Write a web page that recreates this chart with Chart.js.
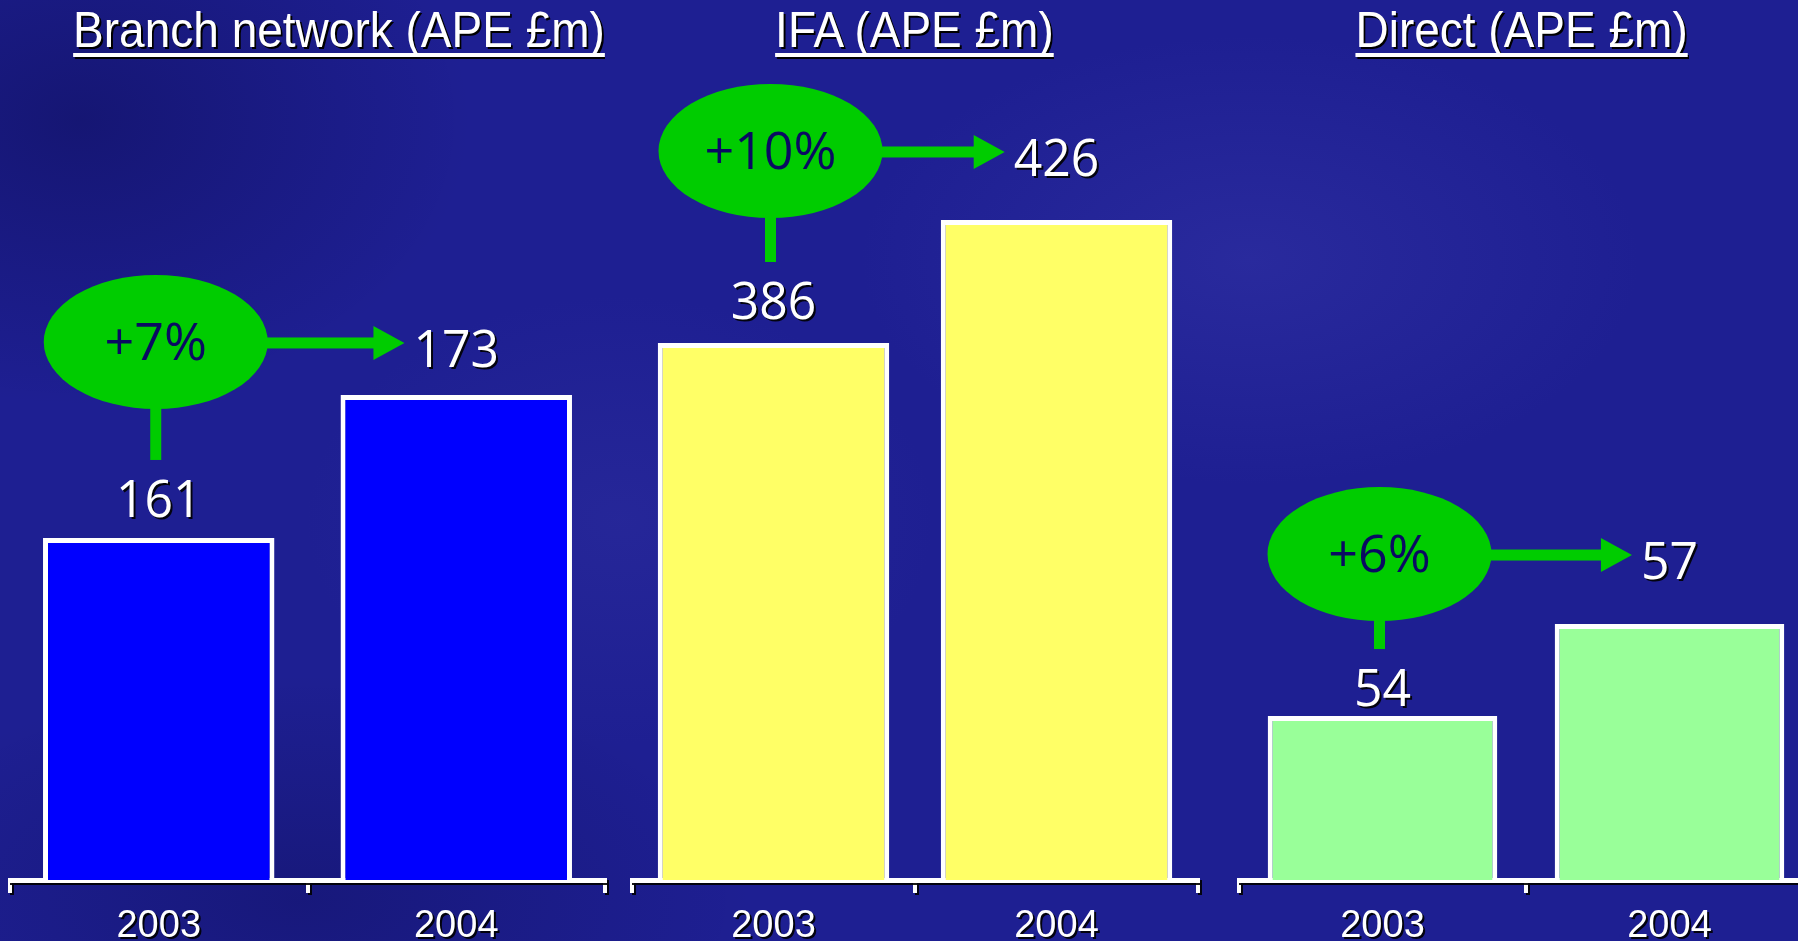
<!DOCTYPE html>
<html>
<head>
<meta charset="utf-8">
<title>APE by channel 2003-2004</title>
<script src="https://cdn.jsdelivr.net/npm/chart.js@4.4.1/dist/chart.umd.min.js"></script>
<style>
  html, body { margin: 0; padding: 0; }
  body {
    width: 1798px;
    height: 941px;
    overflow: hidden;
    position: relative;
    font-family: "Liberation Sans", Arial, sans-serif;
    background:
      radial-gradient(ellipse 520px 300px at 1250px 260px, rgba(70, 70, 185, 0.28), rgba(70, 70, 185, 0) 75%),
      radial-gradient(ellipse 420px 300px at 620px 520px, rgba(65, 65, 175, 0.22), rgba(65, 65, 175, 0) 75%),
      radial-gradient(ellipse 520px 380px at 80px 120px, rgba(8, 8, 70, 0.40), rgba(8, 8, 70, 0) 75%),
      radial-gradient(ellipse 600px 300px at 300px 900px, rgba(8, 8, 70, 0.30), rgba(8, 8, 70, 0) 75%),
      #1e1f92;
  }
  .panel { position: absolute; top: 0; }
  .heading {
    position: absolute;
    top: 5px;
    width: 800px;
    text-align: center;
    color: #fff;
    font-size: 50px;
    line-height: 50px;
    white-space: nowrap;
  }
  .heading span {
    display: inline-block;
    transform: scaleX(0.92);
    text-decoration: underline;
    text-decoration-thickness: 4px;
    text-underline-offset: 6px;
    text-decoration-skip-ink: none;
    text-shadow: 2px 2px 0 #000;
  }
</style>
</head>
<body>
<script>
const channels = ["Branch network (APE £m)", "IFA (APE £m)", "Direct (APE £m)"];
const years = ["2003", "2004"];
const branchApe = [161, 173];
const ifaApe = [386, 426];
const directApe = [54, 57];
// value axis ranges (the bars don't start from zero)
const yMin = [132.3, 211.4, 48.65];
const yMax = [197.75, 465.0, 74.1];

const panels = [
  { title: channels[0], values: branchApe, min: yMin[0], max: yMax[0], color: "#0000ff",
    left: 10, width: 595, titleX: 339, barPct: 0.778, lift: 196, labelLift: 40 },
  { title: channels[1], values: ifaApe, min: yMin[1], max: yMax[1], color: "#ffff66",
    left: 632, width: 566, titleX: 914, barPct: 0.818, lift: 192, labelLift: 43 },
  { title: channels[2], values: directApe, min: yMin[2], max: yMax[2], color: "#99ff99",
    left: 1239, width: 574, titleX: 1522, barPct: 0.80, lift: 162, labelLift: 29 }
];

const VALUE_FONT = '52px "Open Sans", "Noto Sans", sans-serif';
const GROWTH_FONT = '52px "Open Sans", "Noto Sans", sans-serif';

function squeezedText(ctx, text, x, y, sx) {
  ctx.save();
  ctx.translate(x, y);
  ctx.scale(sx, 1);
  ctx.textAlign = "center";
  ctx.textBaseline = "alphabetic";
  ctx.fillText(text, 0, 0);
  ctx.restore();
}

// white text with a hard black drop shadow on the axis labels
const textShadow = {
  id: "textShadow",
  beforeDraw(chart) {
    const ctx = chart.ctx;
    ctx.shadowColor = "rgba(0,0,0,0.9)";
    ctx.shadowOffsetX = 2;
    ctx.shadowOffsetY = 2;
    ctx.shadowBlur = 0;
  },
  beforeDatasetsDraw(chart) {
    chart.ctx.shadowColor = "rgba(0,0,0,0)";
  }
};

// green bubble with growth %, stem down to the 2003 value and arrow to the 2004 value
const growthCallout = {
  id: "growthCallout",
  afterDatasetsDraw(chart, args, opts) {
    const ctx = chart.ctx;
    const vals = chart.data.datasets[0].data;
    const [b1, b2] = chart.getDatasetMeta(0).data;
    const growth = Math.round((vals[1] - vals[0]) / vals[0] * 100);
    const rx = 112, ry = 67;
    const cx = b1.x - 3;
    const cy = b1.y - opts.lift;
    const labelY = b1.y - opts.labelLift;
    const green = "#00cc00";
    const sx = 0.96;

    ctx.save();
    ctx.font = VALUE_FONT;
    const w2 = ctx.measureText(String(vals[1])).width * sx;

    ctx.fillStyle = green;
    // stem
    const stemTop = cy + ry - 6;
    ctx.fillRect(cx - 5.5, stemTop, 11, labelY - 38 - stemTop);
    // bubble
    ctx.beginPath();
    ctx.ellipse(cx, cy, rx, ry, 0, 0, Math.PI * 2);
    ctx.fill();
    // arrow
    const ay = cy + 1;
    const x0 = cx + rx - 3;
    const tip = b2.x - w2 / 2 - 9;
    ctx.fillRect(x0, ay - 5.5, tip - 30 - x0, 11);
    ctx.beginPath();
    ctx.moveTo(tip - 31, ay - 17);
    ctx.lineTo(tip, ay);
    ctx.lineTo(tip - 31, ay + 17);
    ctx.closePath();
    ctx.fill();

    // growth text
    ctx.fillStyle = "#0a0a62";
    ctx.font = GROWTH_FONT;
    squeezedText(ctx, "+" + growth + "%", cx, cy + 18, 1);

    // value labels
    ctx.font = VALUE_FONT;
    ctx.fillStyle = "#ffffff";
    ctx.shadowColor = "rgba(0,0,0,0.9)";
    ctx.shadowOffsetX = 2;
    ctx.shadowOffsetY = 2;
    squeezedText(ctx, String(vals[0]), b1.x, labelY + 19, sx);
    squeezedText(ctx, String(vals[1]), b2.x, cy + 6 + 19, sx);
    ctx.restore();
  }
};

panels.forEach((p) => {
  const head = document.createElement("div");
  head.className = "heading";
  head.style.left = (p.titleX - 400) + "px";
  const span = document.createElement("span");
  span.textContent = p.title;
  head.appendChild(span);
  document.body.appendChild(head);

  const pad = 4;
  const canvas = document.createElement("canvas");
  canvas.className = "panel";
  canvas.width = p.width + pad * 2;
  canvas.height = 941;
  canvas.style.left = (p.left - pad) + "px";
  document.body.appendChild(canvas);

  new Chart(canvas, {
    type: "bar",
    data: {
      labels: years,
      datasets: [{
        data: p.values,
        backgroundColor: p.color,
        borderColor: "#ffffff",
        borderWidth: 5,
        barPercentage: p.barPct,
        categoryPercentage: 1
      }]
    },
    options: {
      responsive: false,
      animation: false,
      layout: { padding: { top: 100, left: pad, right: pad, bottom: 0 } },
      plugins: {
        legend: { display: false },
        tooltip: { enabled: false },
        growthCallout: { lift: p.lift, labelLift: p.labelLift }
      },
      scales: {
        y: { display: false, min: p.min, max: p.max },
        x: {
          afterFit(scale) { scale.height = 61; },
          grid: {
            offset: true,
            drawOnChartArea: false,
            color: "#ffffff",
            lineWidth: 4,
            tickLength: 13
          },
          border: { display: true, color: "#ffffff", width: 5 },
          ticks: {
            color: "#ffffff",
            padding: 11,
            font: { family: "'Liberation Sans', Arial, sans-serif", size: 38 }
          }
        }
      }
    },
    plugins: [textShadow, growthCallout]
  });
});
</script>
</body>
</html>
